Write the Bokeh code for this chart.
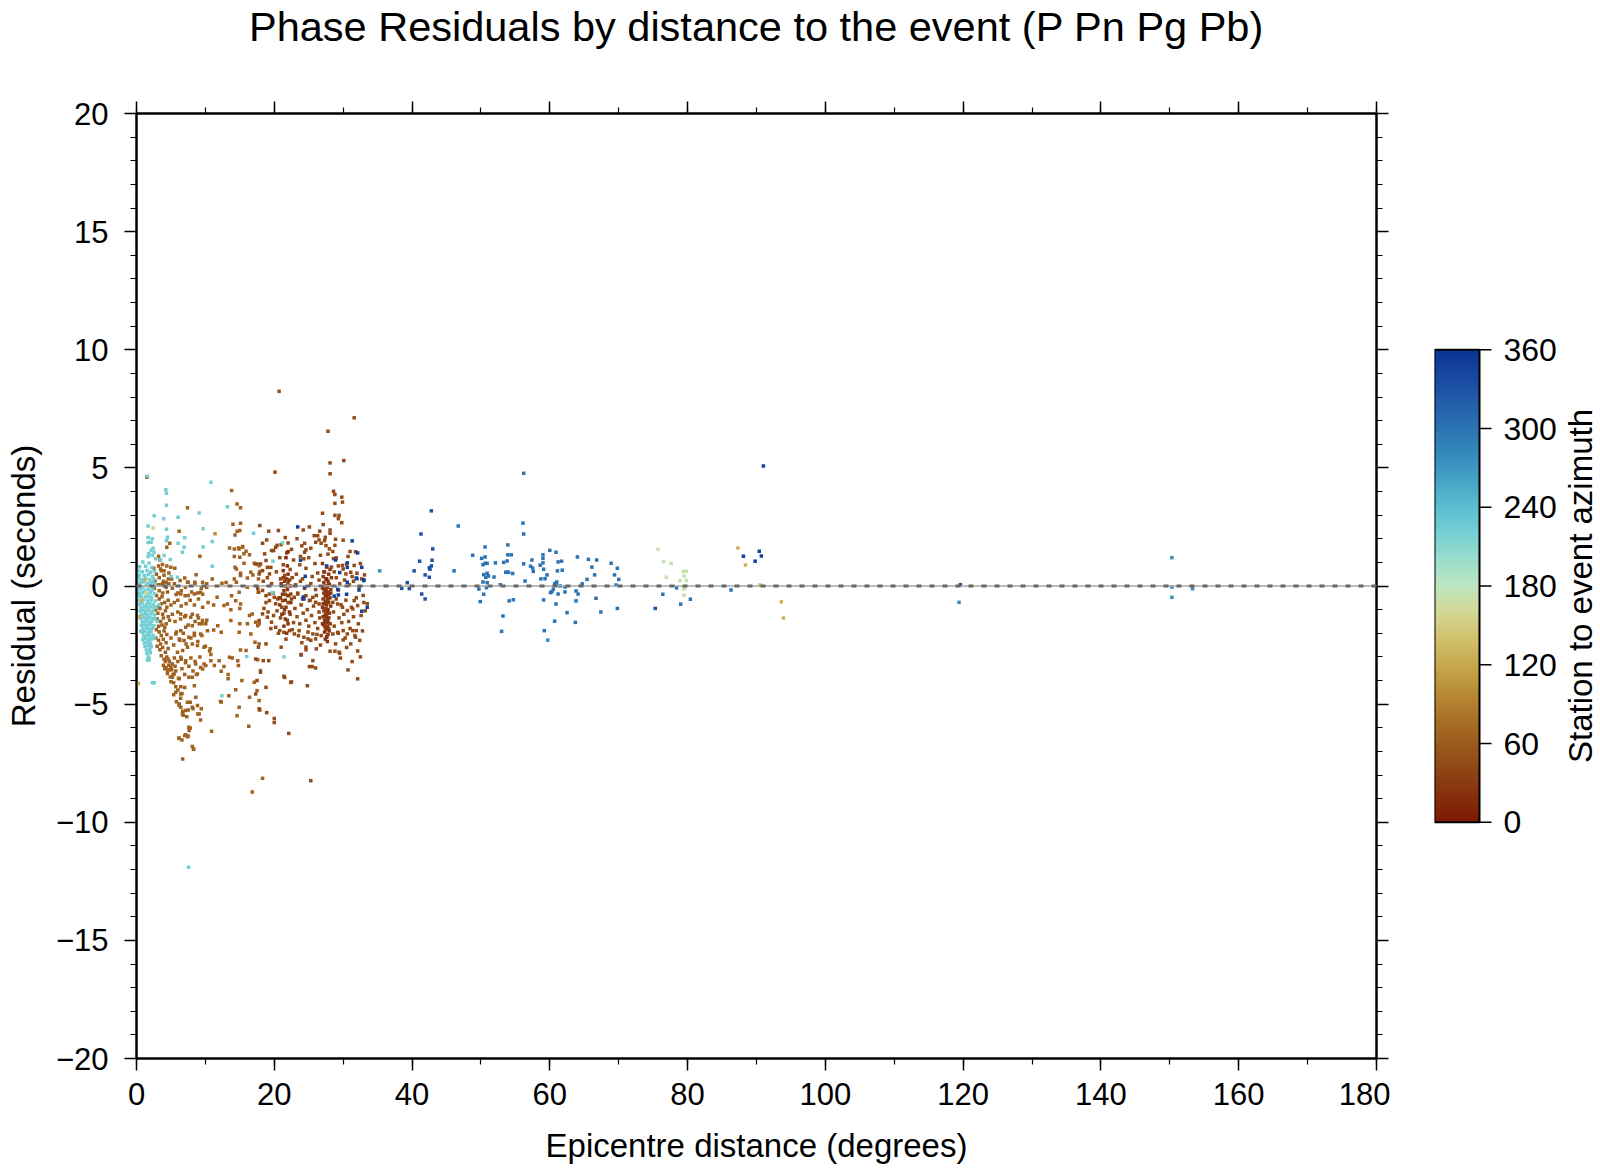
import numpy as np
from bokeh.plotting import figure
from bokeh.models import (LinearColorMapper, Span, FixedTicker, LinearAxis,
                          Range1d, ColumnDataSource)
from bokeh.layouts import row
from bokeh.embed import file_html
from bokeh.resources import INLINE
from bokeh.core.properties import value

# ---------------- data: (epicentre distance [deg], residual [s]) ----------------
cyan_pts = [(1.6,4.65),(10.8,4.39),(4.25,4.07),(4.35,3.93),(4.35,3.42),(9.1,3.09),(13.2,3.35),(2.56,2.97),
    (3.96,2.85),(6.04,2.91),(1.69,2.54),(4.35,2.4),(9.67,2.42),(1.69,2.05),(4.5,2.06),(2.3,2.0),(4.35,1.92),
    (7.0,2.04),(17.0,2.23),(1.69,1.84),(2.1,1.85),(6.04,1.81),(11.0,1.88),(9.67,1.65),(6.9,1.64),(6.67,1.43),
    (2.4,1.6),(2.1,1.5),(2.56,1.43),(1.8,1.36),(2.3,1.29),(1.69,1.25),(3.5,1.1),(4.0,1.29),(2.8,1.15),(4.9,1.12),
    (11.0,0.84),(5.95,0.37),(5.0,0.4),(19.8,1.05),(21.2,1.82),(19.7,-0.28),(16.0,-2.98),(21.4,-3.0),(12.4,-4.65),
    (7.55,-11.9),(2.3,-4.1),(2.56,-4.1),(1.74,-3.13),(1.59,-3.13),(1.83,-3.09),(3.3,-0.8),(3.0,-1.5),
    (0.92,1.02),(1.83,0.97),(0.47,0.81),(1.31,0.84),(2.22,0.78),(0.31,0.63),(0.83,0.6),(1.52,0.66),(2.04,0.58),
    (2.63,0.62),(0.42,0.46),(1.12,0.44),(1.71,0.49),(2.33,0.41),(0.22,0.31),(0.71,0.28),(1.34,0.33),(1.93,0.26),
    (2.52,0.3),(0.53,0.14),(1.04,0.17),(1.62,0.12),(2.14,0.16),(2.71,0.11),(0.33,0.02),(0.86,-0.03),(1.42,0.01),
    (1.97,0.04),(2.41,-0.02),(0.24,-0.16),(0.63,-0.13),(1.21,-0.18),(1.74,-0.14),(2.28,-0.17),(0.44,-0.31),
    (0.93,-0.28),(1.53,-0.33),(2.02,-0.29),(2.61,-0.32),(0.32,-0.46),(0.74,-0.43),(1.33,-0.47),(1.82,-0.44),
    (2.19,-0.48),(0.51,-0.61),(1.02,-0.58),(1.63,-0.62),(2.12,-0.59),(2.72,-0.63),(0.43,-0.76),(0.81,-0.73),
    (1.41,-0.77),(1.92,-0.74),(2.43,-0.78),(0.62,-0.91),(1.13,-0.88),(1.52,-0.92),(2.03,-0.89),(2.54,-0.93),
    (0.53,-1.06),(0.94,-1.03),(1.32,-1.07),(1.81,-1.04),(2.31,-1.08),(0.72,-1.21),(1.22,-1.18),(1.61,-1.22),
    (2.11,-1.19),(2.63,-1.23),(0.61,-1.36),(1.03,-1.33),(1.51,-1.37),(1.94,-1.34),(2.42,-1.38),(0.82,-1.51),
    (1.33,-1.48),(1.72,-1.52),(2.23,-1.49),(0.71,-1.66),(1.12,-1.63),(1.62,-1.67),(2.04,-1.64),(2.52,-1.68),
    (0.93,-1.81),(1.42,-1.78),(1.83,-1.82),(2.32,-1.79),(0.62,-1.9),(0.84,-1.96),(1.23,-1.93),(1.74,-1.97),
    (2.13,-1.94),(1.04,-2.11),(1.52,-2.08),(1.91,-2.12),(2.41,-2.09),(0.92,-2.26),(1.34,-2.23),(1.83,-2.27),
    (2.22,-2.24),(1.13,-2.41),(1.63,-2.38),(2.03,-2.42),(1.24,-2.56),(1.72,-2.53),(2.14,-2.57),(1.43,-2.71),
    (1.93,-2.68),(1.52,-2.86),(2.01,-2.83),(1.73,-3.01),(2.6,-2.2),(2.7,-1.4),(2.8,-0.9)]

brown_near_pts = [(4.83,1.81),(4.4,1.64),(6.19,2.32),(7.4,3.31),(13.8,4.04),(14.6,3.47),(15.1,3.31),(15.1,2.66),
    (14.0,2.61),(14.6,2.32),(15.0,2.35),(14.3,2.16),(13.5,1.61),(14.2,1.57),(14.8,1.61),(15.4,1.67),(15.9,1.47),
    (15.0,1.22),(16.4,1.32),(9.2,1.26),(3.2,1.26),(3.4,1.1),(15.6,0.96),(17.1,0.96),(17.6,0.93),(14.3,0.79),
    (14.5,0.72),(3.77,0.91),(4.4,0.85),(4.0,0.65),(3.5,0.72),(4.98,0.79),(5.56,0.75),(16.6,0.58),(17.9,0.61),
    (17.8,0.86),(15.1,0.54),(15.1,0.44),(16.1,0.34),(16.9,0.47),(17.7,0.3),(14.2,0.3),(14.5,0.16),(8.66,0.48),
    (7.0,0.34),(6.33,0.23),(4.6,0.3),(7.5,0.16),(8.46,0.16),(10.2,0.1),(12.4,0.12),(13.0,0.15),(11.0,0.3),
    (2.9,0.5),(3.3,0.35),(3.6,0.65),(4.0,0.45),(4.3,0.15),(2.7,0.2),(3.1,0.05),(3.8,0.1),(4.7,0.55),(5.1,0.3),
    (2.5,0.75),(3.2,0.85),(2.6,-0.1),(15.4,1.64),(14.9,1.57),(15.6,1.36),(14.2,1.25),(1.5,4.6),
    (3.5,0.05),(3.9,0.2),(4.3,-0.05),(4.7,0.1),(5.2,-0.1),(3.3,-0.2),(3.8,-0.3),(4.5,-0.25),(5.5,0.1),(6.0,-0.3),
    (6.5,-0.2),(7.1,-0.05),(7.5,-0.4),(8.0,-0.25),(8.5,0.1),(8.9,-0.3),(9.4,-0.1),(9.6,-0.35),(10.2,-0.05),
    (5.75,-0.36),(6.43,-0.34),(7.06,-0.41),(8.4,-0.34),(9.3,-0.26),(7.4,0.16),(9.6,0.16),(13.8,-0.41),
    (14.9,-0.26),(16.1,-0.05),(17.7,-0.26),(11.7,-0.48),
    (2.9,-0.4),(3.3,-0.55),(3.7,-0.45),(4.1,-0.7),(4.6,-0.6),(5.0,-0.8),(3.2,-0.85),(3.6,-0.75),(4.4,-0.9),
    (5.5,-0.7),(6.0,-0.6),(6.5,-0.85),(7.2,-0.75),(7.8,-0.6),(8.4,-0.8),(9.0,-0.55),(9.6,-0.9),(10.4,-0.7),
    (11.2,-0.8),(12.7,-0.83),(13.2,-0.76),(14.4,-0.62),(15.1,-0.76),(15.0,-0.95),(13.7,-1.0),
    (2.8,-1.0),(3.1,-1.15),(3.4,-0.95),(3.8,-1.2),(4.2,-1.05),(4.6,-1.3),(3.0,-1.4),(3.5,-1.5),(3.9,-1.35),
    (4.3,-1.6),(4.8,-1.45),(5.2,-1.2),(5.6,-1.5),(6.0,-1.1),(6.4,-1.4),(7.0,-1.3),(7.5,-1.65),(8.1,-1.2),
    (8.5,-1.5),(9.0,-1.35),(9.5,-1.6),(10.2,-1.45),(3.2,-1.7),(3.7,-1.65),(4.1,-1.75),(16.4,-1.25),(16.8,-1.18),
    (17.3,-1.53),(17.8,-1.6),(13.7,-1.46),(15.0,-1.6),(16.1,-1.6),(17.6,-1.68),(6.43,-1.18),(7.15,-1.25),
    (7.88,-1.32),(8.85,-1.25),(9.58,-1.46),(10.06,-1.6),(9.1,-1.6),(8.1,-1.68),(7.15,-1.75),(11.8,-1.68),
    (11.2,-1.86),
    (2.9,-1.85),(3.3,-1.95),(3.6,-2.1),(4.0,-1.9),(4.4,-2.05),(2.8,-2.2),(3.2,-2.3),(3.5,-2.45),(3.9,-2.25),
    (4.3,-2.4),(3.0,-2.55),(3.4,-2.7),(3.8,-2.6),(4.2,-2.8),(4.6,-2.65),(5.0,-2.2),(5.4,-2.5),(5.8,-1.95),
    (6.3,-2.3),(6.8,-2.0),(7.2,-2.45),(7.9,-2.2),(8.4,-2.0),(8.9,-2.35),(9.5,-2.1),(10.0,-2.55),(10.6,-2.75),
    (10.8,-2.9),(14.9,-1.96),(12.3,-1.96),(17.2,-2.38),(17.8,-2.45),(15.1,-2.71),(15.9,-2.73),(16.6,-2.03),
    (6.43,-1.89),(5.7,-2.03),(6.2,-2.24),(6.9,-2.31),(7.6,-2.17),(8.4,-2.1),(9.3,-2.03),(10.3,-1.89),
    (10.7,-2.66),(9.8,-2.59),(8.85,-2.52),(8.1,-2.45),(7.4,-2.59),(6.7,-2.73),(5.95,-2.8),
    (3.6,-2.95),(4.0,-3.1),(4.4,-3.0),(4.8,-3.2),(3.9,-3.35),(4.3,-3.45),(4.7,-3.35),(5.1,-3.55),(4.5,-3.7),
    (4.9,-3.85),(5.3,-3.75),(5.7,-3.6),(6.1,-3.9),(6.6,-3.5),(7.0,-3.75),(7.6,-3.4),(8.2,-3.6),(8.7,-3.75),
    (9.3,-3.45),(5.5,-3.05),(6.0,-3.2),(6.5,-3.1),(7.1,-3.25),(7.9,-3.05),(8.5,-3.2),(9.2,-3.0),(9.8,-3.3),
    (10.8,-3.16),(11.3,-3.37),(12.0,-3.16),(12.7,-3.41),(12.3,-3.61),(13.5,-3.02),(13.9,-3.05),(14.7,-3.16),
    (14.8,-3.37),(17.6,-3.12),(18.0,-3.58),(13.3,-3.93),(6.43,-3.02),(7.15,-3.16),(8.6,-3.3),(10.06,-3.37),
    (9.6,-3.51),(8.85,-3.72),(8.1,-3.86),(7.6,-3.86),(6.2,-3.93),(5.2,-3.86),(5.46,-3.72),(5.0,-3.44),
    (4.5,-3.58),(4.2,-3.2),(4.6,-3.1),(5.2,-3.3),(4.1,-3.5),(4.8,-3.55),(5.6,-3.4),
    (5.0,-4.05),(5.4,-4.1),(5.7,-4.5),(5.7,-4.26),(5.4,-4.6),(6.0,-4.4),(5.8,-4.9),(6.2,-5.06),(6.4,-4.75),
    (6.6,-4.55),(7.0,-4.3),(6.8,-5.47),(6.7,-5.3),(7.3,-5.53),(7.5,-5.25),(7.8,-4.92),(8.6,-4.71),(8.4,-4.22),
    (8.2,-5.2),(8.9,-5.42),(9.3,-5.67),(9.4,-5.2),(6.15,-6.43),(6.6,-6.52),(7.0,-6.33),(7.4,-6.38),(7.65,-6.12),
    (7.8,-6.01),(8.1,-6.79),(8.3,-6.91),(6.7,-7.32),(10.9,-6.15),(12.3,-4.91),(13.4,-4.65),(14.4,-4.39),
    (14.9,-5.13),(14.6,-5.49),(16.3,-5.94),(17.1,-4.07),(17.5,-4.43),(16.4,-4.71),(17.8,-4.85),(15.3,-4.0),
    (13.3,-3.75),(12.2,-4.89),(6.43,-4.26),(6.43,-4.57),(6.2,-4.99),(6.43,-5.13),(7.4,-4.92),(7.15,-5.27),
    (8.1,-5.13),(8.85,-5.06),(9.1,-5.42),(6.67,-5.42),(7.6,-5.98),(7.15,-6.3),(7.5,-6.35),(6.2,-6.45),
    (8.27,-6.9),(16.8,-8.72),(18.3,-8.14)]

brown_far_pts = [(20.1,4.82),(28.1,5.21),(30.1,5.31),(28.1,4.75),(28.6,4.01),(28.8,3.87),(29.8,3.76),(29.9,3.55),
    (28.8,3.5),(27.0,3.08),(28.8,2.99),(29.4,2.99),(29.3,2.85),(29.8,2.68),(27.1,2.6),(17.9,2.56),(19.2,2.32),
    (24.2,2.37),(28.1,2.37),(28.1,2.23),(26.6,2.32),(26.3,2.13),(25.8,2.13),(26.5,1.95),(26.8,1.81),(21.6,2.05),
    (22.0,1.82),(18.3,1.81),(28.9,1.98),(30.0,1.94),(31.0,1.46),(24.4,1.81),(24.4,1.43),(24.6,1.53),(23.8,1.25),
    (24.3,1.15),(27.4,2.06),(27.3,1.92),(27.5,1.71),(28.0,1.57),(28.5,1.46),(28.8,1.72),(28.6,1.16),(29.0,1.19),
    (29.9,0.87),(30.5,0.93),(30.0,0.72),(30.4,0.51),(31.1,0.58),(31.6,0.87),(32.0,0.54),(33.1,0.47),(32.7,0.3),
    (20.2,1.64),(20.4,1.72),(19.9,1.5),(19.6,1.5),(18.6,1.36),(18.8,1.08),(19.0,0.79),(18.0,0.93),(17.3,0.93),
    (18.3,0.65),(17.8,0.51),(19.5,0.79),(19.3,0.51),(31.6,7.12),(27.8,6.55),(20.7,8.24),
    (20.8,1.2),(21.3,0.9),(21.8,1.4),(22.3,0.7),(22.8,1.1),(23.2,0.5),(23.7,0.9),(24.1,0.3),(24.6,0.75),
    (25.0,1.2),(25.5,0.4),(25.9,0.95),(26.3,0.55),(26.7,1.3),(20.3,0.6),(20.9,0.3),(21.5,0.45),(22.0,0.15),
    (22.6,0.35),(23.1,0.05),(23.8,0.2),(24.4,-0.1),(25.3,0.1),(26.0,-0.15),(26.5,0.25),(19.0,0.35),(19.6,0.1),
    (18.4,0.2),(17.6,-0.1),(29.0,0.35),(29.5,0.1),(30.2,0.25),(30.9,0.05),(31.5,0.2),(32.3,-0.05),(28.7,0.6),
    (29.3,0.85),(30.7,1.25),(31.3,0.4),(32.5,0.95),(25.3,1.6),(24.0,1.7),(22.5,1.55),(21.0,1.75),(27.8,1.35),
    (28.3,0.8),(26.0,1.85),(23.3,2.0),(25.1,2.5),(20.6,2.35),(18.9,1.95),(31.8,1.45),
    (17.7,-0.26),(18.3,-0.19),(18.8,-0.41),(19.3,-0.34),(20.0,-0.48),(20.5,-0.55),(21.2,-0.62),(21.9,-0.41),
    (22.4,-0.34),(22.9,-0.48),(23.4,-0.34),(24.1,-0.55),(24.6,-0.41),(25.1,-0.62),(25.6,-0.48),(26.0,-0.69),
    (26.5,-0.76),(28.5,-0.69),(29.2,-0.76),(29.9,-0.9),(30.6,-1.04),(31.4,-0.97),(32.1,-0.83),(31.6,-0.62),
    (17.8,-1.46),(18.3,-1.18),(19.0,-1.32),(19.6,-1.53),(20.2,-1.75),(20.8,-1.89),(21.4,-1.96),(22.2,-1.89),
    (22.9,-2.03),(23.6,-1.89),(24.3,-2.17),(24.9,-2.24),(25.6,-2.03),(26.0,-2.24),(26.8,-2.1),(27.6,-2.17),
    (28.5,-2.03),(29.2,-1.96),(30.0,-1.89),(30.6,-2.03),(31.4,-1.89),(31.9,-1.89),(31.8,-2.17),(31.1,-2.45),
    (30.0,-2.28),(29.4,-2.8),(28.8,-2.76),(28.1,-2.76),(26.1,-2.66),(24.6,-2.59),(24.6,-2.7),(23.9,-2.9),
    (21.0,-2.59),(18.8,-2.45),(17.7,-2.59),(17.3,-3.09),(18.4,-3.16),(19.2,-3.16),(18.0,-3.65),(17.5,-4.0),
    (17.3,-4.57),(18.8,-4.29),(21.5,-3.87),(22.4,-4.08),(24.8,-4.22),(25.6,-3.16),(25.1,-3.41),(26.0,-3.47),
    (30.7,-3.55),(32.1,-3.93),(17.8,-5.2),(25.3,-8.24),(22.1,-6.24),(20.0,-5.61),(20.0,-5.78),(18.9,-5.36),
    (17.9,-5.25),(23.9,-2.92),(22.5,-4.06),(29.5,-2.85),(25.5,-3.41),(21.4,-3.82),
    (18.8,-0.7),(19.3,-0.62),(19.8,-0.3),(20.2,-0.75),(20.7,-0.5),(21.1,-0.9),(21.6,-0.35),(22.0,-0.7),
    (22.5,-0.55),(23.0,-0.95),(23.4,-0.3),(23.9,-0.8),(24.3,-0.45),(24.8,-1.0),(25.2,-0.6),(25.7,-0.85),
    (26.1,-0.4),(26.5,-1.1),(18.5,-0.95),(19.1,-1.1),(19.9,-1.25),(20.4,-1.05),(20.9,-1.35),(21.4,-1.15),
    (21.9,-1.45),(22.3,-1.2),(22.8,-1.55),(23.3,-1.3),(23.7,-1.6),(24.2,-1.15),(24.6,-1.45),(25.0,-1.7),
    (25.4,-1.25),(25.9,-1.55),(26.3,-1.8),(26.6,-1.35),(19.5,-1.8),(20.6,-2.0),(21.7,-2.25),(22.6,-1.85),
    (23.5,-2.1),(24.0,-2.4),(24.9,-1.95),(25.3,-2.3),(26.2,-2.05),(26.7,-2.5),(28.6,-1.1),(29.0,-0.55),
    (29.4,-1.35),(29.7,-0.8),(30.1,-1.2),(30.4,-0.6),(30.8,-1.5),(31.2,-0.9),(31.5,-1.3),(31.9,-0.5),
    (32.2,-1.6),(32.6,-1.25),(28.7,-1.7),(29.3,-2.0),(29.8,-1.55),(30.3,-2.2),(31.0,-1.8),(31.7,-2.1),
    (32.4,-2.3),(32.8,-1.9),(28.9,-2.45),(30.5,-2.6),(32.1,-2.75),(32.5,-3.0),(31.3,-3.2),(29.6,-3.05),
    (33.0,-0.7),(33.5,-0.75),(32.9,-0.4),(33.2,-1.05)]

dark_brown_pts = [(27.0,0.95),(27.6,0.8),(28.1,0.7),(27.3,0.6),(27.9,0.5),(27.1,0.4),(28.3,0.35),(27.5,0.3),
    (27.8,0.2),(27.2,0.15),(28.0,0.05),(27.4,0.0),(27.7,-0.05),(27.0,-0.1),(28.2,-0.15),(27.5,-0.2),(27.8,-0.25),
    (27.2,-0.3),(27.9,-0.35),(27.4,-0.4),(27.6,-0.45),(28.1,-0.5),(27.1,-0.55),(27.7,-0.6),(27.4,-0.65),
    (27.9,-0.7),(27.3,-0.75),(27.6,-0.8),(28.2,-0.85),(27.0,-0.9),(27.5,-0.95),(27.8,-1.0),(27.2,-1.05),
    (27.7,-1.1),(28.0,-1.15),(27.4,-1.2),(27.6,-1.25),(27.1,-1.3),(27.9,-1.35),(27.5,-1.4),(27.3,-1.45),
    (27.8,-1.5),(27.6,-1.55),(28.1,-1.6),(27.2,-1.65),(27.7,-1.7),(27.4,-1.75),(27.9,-1.8),(27.5,-1.85),
    (27.3,-1.95),(27.8,-2.05),(27.6,-2.15),(27.4,-2.25),(27.7,-2.35),(27.3,-0.15),(27.8,-0.55),(27.6,-1.0),
    (27.4,-1.55),(28.0,-1.9),(27.2,0.6),(27.9,0.1),(27.5,-0.3),(27.1,-0.75),(27.7,-1.35),(28.2,-0.3),(27.0,-1.6),
    (21.0,0.1),(21.4,-0.2),(21.8,0.3),(22.1,-0.4),(21.6,-0.6),(21.2,-0.35),(22.3,0.0),(21.9,-0.15),(20.9,-0.5),
    (22.0,0.5),(21.5,0.2),(22.4,-0.7),(21.7,-0.9),(21.3,0.65),(21.9,0.85),(22.2,-1.1),(21.1,-1.2),(21.6,-1.4),
    (21.4,-1.7),(22.0,-1.6),(21.8,-2.0),(21.3,0.35),(21.7,0.0),(22.2,0.25),(21.5,-1.0),(20.8,-0.8)]

red_pts = [(21.7,1.2),(22.0,1.45),(29.3,-0.17),(27.6,0.3)]
orange_pts = [(11.4,2.21)]
yellow_pts = [(0.29,-4.13),(0.8,-0.6),(1.2,0.25),(0.45,-1.3),(87.3,1.61),(88.4,0.89),(90.5,0.04),(93.6,-0.67),(93.9,-1.35)]
lime_pts = [(2.41,2.46),(1.4,-0.3)]
green_pts = [(75.7,1.55),(76.5,1.03),(76.9,0.37),(77.6,0.96),(78.9,0.23),(79.4,0.62),(79.8,0.62),(79.5,0.42),
    (79.4,-0.12),(79.5,-0.39),(79.8,0.23),(79.6,-0.1)]
navy_pts = [(23.4,2.5),(23.8,1.09),(24.5,0.41),(24.4,-0.04),(24.2,-0.48),(24.3,-0.55),(27.6,0.85),(28.7,-0.43),
    (29.2,-0.14),(29.3,-0.38),(29.5,0.57),(30.5,-0.35),(30.6,0.98),(30.6,0.79),(31.3,1.91),(32.1,1.4),(32.7,0.79),
    (33.0,0.23),(32.0,0.31),(32.3,-0.17),(32.7,-1.07),(33.5,-0.9),(28.9,1.1),(30.6,0.16),(31.9,0.34),(33.0,0.26),
    (88.1,1.26),(89.8,1.05),(90.4,1.47),(90.7,1.27),(91.0,5.08),(119.6,0.05)]
royal_pts = [(38.5,-0.1),(39.3,0.14),(39.6,-0.11),(40.3,0.64),(41.1,1.05),(41.3,2.2),(41.4,-0.34),(41.9,0.47),
    (41.9,-0.55),(42.5,0.37),(42.5,0.77),(42.6,0.71),(42.8,3.18),(42.8,0.85),(42.9,1.09),(43.0,1.57),(75.3,-0.95)]
blue_pts = [(46.1,0.64),(46.7,2.54),(48.8,1.3),(49.7,-0.13),(49.9,-0.66),(50.1,1.17),(50.3,0.9),(50.3,0.17),
    (50.4,0.48),(50.4,-0.35),(50.6,0.96),(50.9,0.96),(50.6,1.65),(50.6,1.23),(50.7,0.37),(50.8,-0.07),(50.9,0.54),
    (50.9,0.14),(51.1,0.42),(51.9,0.38),(52.1,0.98),(52.8,0.05),(53.0,-1.92),(53.2,-1.27),(53.3,1.0),(53.6,0.58),
    (53.8,0.58),(54.0,0.58),(53.8,1.06),(53.9,1.32),(53.9,1.74),(54.1,-0.63),(54.4,1.32),(54.6,0.53),(54.7,-0.58),
    (56.1,2.66),(56.2,4.77),(56.2,2.2),(56.2,0.94),(56.4,0.21),(57.2,0.84),(57.4,1.1),(57.5,0.76),(57.6,0.62),
    (58.6,0.88),(58.7,0.3),(59.0,1.32),(59.0,1.17),(59.0,0.98),(59.1,0.71),(59.1,-0.59),(59.2,-1.89),(59.3,0.31),
    (59.6,0.47),(60.0,1.51),(60.1,-0.28),(60.3,-0.24),(60.5,-0.14),(60.7,0.1),(60.9,0.1),(61.0,0.17),(60.7,-1.49),
    (60.9,-0.76),(60.9,1.43),(61.1,0.64),(61.2,1.02),(61.2,-0.34),(61.5,0.0),(61.7,1.05),(61.8,0.67),(62.2,-0.04),
    (62.2,-0.25),(62.5,-1.13),(63.7,-1.54),(63.8,-0.21),(63.8,-0.63),(64.0,1.23),(64.1,-0.34),(64.7,0.09),
    (65.4,0.28),(65.6,1.13),(66.1,0.8),(66.5,0.47),(66.7,-0.52),(66.8,1.1),(67.4,-1.1),(68.9,0.96),(69.4,0.47),
    (69.6,0.04),(69.8,0.75),(69.8,-0.95),(70.0,0.28),(76.4,-0.35),(78.4,-0.08),(79.0,-0.77),(80.4,-0.56),(86.3,-0.17)]
sky_pts = [(35.3,0.64),(59.7,-2.29),(119.4,-0.69),(150.3,1.2),(150.3,-0.05),(150.3,-0.48),(153.3,-0.12)]

# station-to-event azimuth (degrees) of each group of stations
groups = [(brown_near_pts, 66), (brown_far_pts, 46), (dark_brown_pts, 28), (red_pts, 12), (orange_pts, 100),
          (cyan_pts, 222), (yellow_pts, 128), (lime_pts, 158), (green_pts, 172), (navy_pts, 345),
          (royal_pts, 328), (blue_pts, 300), (sky_pts, 275)]

x_ticks = [0, 20, 40, 60, 80, 100, 120, 140, 160, 180]
y_ticks = [-20, -15, -10, -5, 0, 5, 10, 15, 20]
az_ticks = [0, 60, 120, 180, 240, 300, 360]
cbar_title = "Station to event azimuth"

# ---------------- colour scale (roma-like) ----------------
anchors = [(0, '#7E1A03'), (20, '#86300D'), (40, '#904615'), (60, '#9C5C1D'), (80, '#AA7428'), (100, '#B98E37'),
           (120, '#C7A94E'), (140, '#D2C16C'), (160, '#D3D895'), (180, '#BEE6C1'), (200, '#9ADDCC'),
           (220, '#76D0D4'), (240, '#5BBECF'), (260, '#46A4C7'), (280, '#358ABE'), (300, '#2B74B3'),
           (320, '#235EA9'), (340, '#17489F'), (360, '#0B3494')]
def _h(c):
    return [int(c[i:i + 2], 16) for i in (1, 3, 5)]
palette = []
for i in range(256):
    a = i / 255 * 360
    for (a0, c0), (a1, c1) in zip(anchors[:-1], anchors[1:]):
        if a0 <= a <= a1:
            t = (a - a0) / (a1 - a0)
            r = [round(u + (v - u) * t) for u, v in zip(_h(c0), _h(c1))]
            palette.append('#%02x%02x%02x' % tuple(r))
            break
mapper = LinearColorMapper(palette=palette, low=0, high=360)

dist, resid, azim = [], [], []
for pts, az in groups:
    for d, r in pts:
        dist.append(d)
        resid.append(r)
        azim.append(az)
src = ColumnDataSource(dict(dist=dist, resid=resid, az=azim))

FONT = "Liberation Sans"
H = 1166
BT, BB = 113, 108          # top / bottom borders (shared by both panels)

p = figure(width=1390, height=H, x_range=Range1d(0, 180), y_range=Range1d(-20, 20),
           toolbar_location=None, output_backend="svg",
           min_border_left=136, min_border_right=14, min_border_top=BT, min_border_bottom=BB,
           title="Phase Residuals by distance to the event (P Pn Pg Pb)")
p.title.text_font = FONT
p.title.text_font_size = "41.5px"
p.title.text_font_style = "normal"
p.title.text_color = "black"
p.title.align = "center"
p.title.vertical_align = "top"
p.title.standoff = 0
p.grid.visible = False
p.outline_line_color = "black"
p.outline_line_width = 2
p.background_fill_color = "white"
p.border_fill_color = "white"

bx = p.below[0]
ly = p.left[0]
bx.ticker = FixedTicker(ticks=x_ticks, minor_ticks=list(range(0, 181, 10)))
ly.ticker = FixedTicker(ticks=y_ticks, minor_ticks=list(range(-20, 21, 1)))
bx.axis_label = "Epicentre distance (degrees)"
ly.axis_label = "Residual (seconds)"
bx.major_label_standoff = 12
bx.axis_label_standoff = 19
ly.major_label_standoff = 16
ly.axis_label_standoff = 11
ly.major_label_overrides = {-20: "\u221220", -15: "\u221215", -10: "\u221210", -5: "\u22125"}

# top axis: ticks only (blank labels reserve the space between the frame and the title)
top_ax = LinearAxis(ticker=FixedTicker(ticks=x_ticks, minor_ticks=list(range(0, 181, 10))),
                    major_label_text_font_size="42px", major_label_text_color="black", major_label_standoff=0,
                    major_label_overrides={t: " " for t in x_ticks})
right_ax = LinearAxis(ticker=FixedTicker(ticks=y_ticks, minor_ticks=list(range(-20, 21, 1))),
                      major_label_text_font_size="1px", major_label_text_color=None, major_label_standoff=0)
p.add_layout(top_ax, "above")
p.add_layout(right_ax, "right")

for ax in [bx, ly, top_ax, right_ax]:
    ax.axis_line_width = 2
    ax.axis_line_color = "black"
    ax.major_tick_out = 12
    ax.major_tick_in = 0
    ax.minor_tick_out = 6
    ax.minor_tick_in = 0
    ax.major_tick_line_width = 1.5
    ax.minor_tick_line_width = 1.2
    ax.major_tick_line_color = "black"
    ax.minor_tick_line_color = "black"
for ax in [bx, ly]:
    ax.major_label_text_font = FONT
    ax.major_label_text_font_size = "31px"
    ax.major_label_text_color = "black"
    ax.axis_label_text_font = FONT
    ax.axis_label_text_font_size = "33px"
    ax.axis_label_text_font_style = "normal"
    ax.axis_label_text_color = "black"

p.add_layout(Span(location=0, dimension="width", line_color="#aaaaaa", line_width=1.5))
p.add_layout(Span(location=0, dimension="width", line_color="#666666", line_width=3, line_dash="5 8"))

p.scatter("dist", "resid", source=src, marker="square", size=3.5,
          fill_color={"field": "az", "transform": mapper}, line_color=None)

# ---------------- colour bar panel (pixel-scaled frame, bar = half the plot height) ----------------
FH = H - BT - BB                      # frame height in px
u = 360 * 2 / FH                      # azimuth units per px (bar spans half the frame)
half = FH / 2 * u
CW = 166
cb = figure(width=210, height=H, x_range=Range1d(0, CW), y_range=Range1d(180 - half, 180 + half),
            toolbar_location=None, output_backend="svg", x_axis_location=None, y_axis_location=None,
            min_border_left=44, min_border_right=0, min_border_top=BT, min_border_bottom=BB)
cb.grid.visible = False
cb.outline_line_color = None
cb.background_fill_color = "white"
cb.border_fill_color = "white"
cb.image(image=[np.linspace(0, 360, 256).reshape(256, 1)], x=0, y=0, dw=45, dh=360, color_mapper=mapper)
cb.quad(left=0, right=45, bottom=0, top=360, fill_color=None, line_color="black", line_width=2)
cb.segment(x0=45, x1=57, y0=az_ticks, y1=az_ticks, line_color="black", line_width=1.5)
cb.text(x=69, y=az_ticks, text=[str(t) for t in az_ticks], text_font=value(FONT), text_font_size="32px",
        text_baseline="middle", text_align="left", text_color="black")
cb.text(x=[146], y=[180], text=[cbar_title], angle=np.pi / 2, text_font=value(FONT), text_font_size="33px",
        text_baseline="middle", text_align="center", text_color="black")

layout = row(p, cb)
open("out.html", "w").write(file_html(layout, INLINE))
